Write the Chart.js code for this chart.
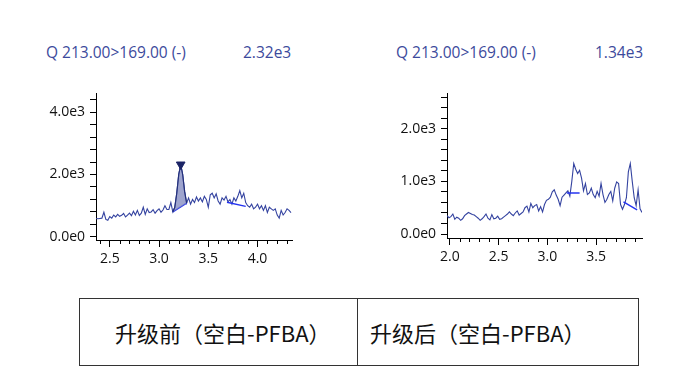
<!DOCTYPE html>
<html>
<head>
<meta charset="utf-8">
<script src="https://cdn.jsdelivr.net/npm/chart.js@4/dist/chart.umd.min.js"></script>
<style>
  html, body { margin: 0; padding: 0; background: #fff; }
  #page { position: relative; width: 691px; height: 385px; overflow: hidden; font-family: "Open Sans", "Noto Sans", sans-serif; }
  .hdr { position: absolute; font-size: 15.5px; color: #3c4a9c; line-height: 18px; white-space: nowrap; }
  canvas { position: absolute; }
  #tbl { position: absolute; left: 79px; top: 298px; width: 560px; height: 67px; border-collapse: collapse; table-layout: fixed; }
  #tbl td { box-sizing: border-box; border: 1px solid #333; font-family: "Noto Sans CJK SC", "Noto Sans", sans-serif; font-size: 22px; color: #111; padding: 0; height: 67px; vertical-align: middle; white-space: nowrap; }
</style>
</head>
<body>
<div id="page">
  <div class="hdr" style="left:46px; top:43px;">Q 213.00&gt;169.00 (-)</div>
  <div class="hdr" style="left:243px; top:43px;">2.32e3</div>
  <div class="hdr" style="left:396px; top:43px;">Q 213.00&gt;169.00 (-)</div>
  <div class="hdr" style="left:595px; top:43px;">1.34e3</div>
  <canvas id="c1" width="320" height="190" style="left:0px; top:80px;"></canvas>
  <canvas id="c2" width="320" height="190" style="left:350px; top:80px;"></canvas>
  <table id="tbl">
    <tr>
      <td style="width:278px; padding-left:35px;">升级前（空白-PFBA）</td>
      <td style="padding-left:12px;">升级后（空白-PFBA）</td>
    </tr>
  </table>
</div>
<script>
// ---------------- data: left (before upgrade) ----------------
const leftTime = [2.36,2.38,2.40,2.42,2.44,2.46,2.48,2.50,2.52,2.54,2.56,2.58,2.60,2.62,2.64,2.66,2.68,2.70,2.72,2.74,
  2.76,2.78,2.80,2.82,2.84,2.86,2.88,2.90,2.92,2.94,2.96,2.98,3.00,3.02,3.04,3.06,3.08,3.10,3.12,3.14,
  3.16,3.18,3.20,3.22,3.24,3.26,3.28,3.30,3.32,3.34,3.36,3.38,3.40,3.42,3.44,3.46,3.48,3.50,3.52,3.54,
  3.56,3.58,3.60,3.62,3.64,3.66,3.68,3.70,3.72,3.74,3.76,3.78,3.80,3.82,3.84,3.86,3.88,3.90,3.92,3.94,
  3.96,3.98,4.00,4.02,4.04,4.06,4.08,4.10,4.12,4.14,4.16,4.18,4.20,4.22,4.24,4.26,4.28,4.30,4.32,4.34];
const leftIntensity = [590,580,590,600,790,560,530,650,600,700,640,720,660,690,750,640,700,760,680,820,
  700,850,690,760,950,720,900,780,800,870,760,840,900,790,860,1000,880,880,1100,800,
  950,1400,2000,2320,2000,1450,1080,1250,1050,1200,1100,1280,1150,1250,1120,1300,1200,950,1350,1400,
  1250,1380,1150,1050,1250,1180,1300,1120,1200,1050,1250,1150,1300,1480,1250,1400,1100,1000,950,1050,
  900,950,1050,900,1000,850,1000,780,950,900,850,900,700,600,850,700,780,900,850,780];
const leftPeakRange = [3.14, 3.28];
const leftPeakApex = [3.22, 2320];
const leftBase1Time = [3.14, 3.28];
const leftBase1Value = [800, 1080];
const leftBase2Time = [3.69, 3.88];
const leftBase2Value = [1110, 980];
const leftXRange = [2.36, 4.35];
const leftYRange = [-100, 4600];
const leftXTicks = [2.4,2.5,2.6,2.7,2.8,2.9,3.0,3.1,3.2,3.3,3.4,3.5,3.6,3.7,3.8,3.9,4.0,4.1,4.2,4.3];
const leftXLabels = [2.5, 3.0, 3.5, 4.0];
const leftYTicks = [0,400,800,1200,1600,2000,2400,2800,3200,3600,4000,4400];
const leftYLabels = [0, 2000, 4000];

// ---------------- data: right (after upgrade) ----------------
const rightTime = [1.97,1.99,2.01,2.03,2.05,2.07,2.09,2.11,2.13,2.15,2.17,2.19,2.21,2.23,2.25,2.27,2.29,2.31,2.33,2.35,
  2.37,2.39,2.41,2.43,2.45,2.47,2.49,2.51,2.53,2.55,2.57,2.59,2.61,2.63,2.65,2.67,2.69,2.71,2.73,2.75,
  2.77,2.79,2.81,2.83,2.85,2.87,2.89,2.91,2.93,2.95,2.97,2.99,3.01,3.03,3.05,3.07,3.09,3.11,3.13,3.15,
  3.17,3.19,3.21,3.23,3.25,3.27,3.29,3.31,3.33,3.35,3.37,3.39,3.41,3.43,3.45,3.47,3.49,3.51,3.53,3.55,
  3.57,3.59,3.61,3.63,3.65,3.67,3.69,3.71,3.73,3.75,3.77,3.79,3.81,3.83,3.85,3.87,3.89,3.91,3.93,3.95,3.97];
const rightIntensity = [350,310,330,380,280,320,300,260,290,350,380,410,390,370,360,330,300,260,290,330,
  380,300,270,370,290,300,340,280,290,320,350,380,420,380,350,400,440,360,390,420,
  500,530,420,580,500,540,560,440,520,420,560,640,660,700,800,840,740,660,540,700,
  740,780,820,720,1000,1340,1230,1150,1210,1060,820,960,750,780,870,750,690,810,720,960,
  750,600,660,750,810,630,870,990,960,560,470,560,690,1180,1340,1000,690,540,840,480,410];
const rightBase1Time = [3.20, 3.33];
const rightBase1Value = [780, 780];
const rightBase2Time = [3.78, 3.92];
const rightBase2Value = [610, 460];
const rightXRange = [1.97, 3.97];
const rightYRange = [-75, 2670];
const rightXTicks = [2.0,2.1,2.2,2.3,2.4,2.5,2.6,2.7,2.8,2.9,3.0,3.1,3.2,3.3,3.4,3.5,3.6,3.7,3.8,3.9];
const rightXLabels = [2.0, 2.5, 3.0, 3.5];
const rightYTicks = [0,200,400,600,800,1000,1200,1400,1600,1800,2000,2200,2400,2600];
const rightYLabels = [0, 1000, 2000];

// ---------------- helpers ----------------
const TRACE = '#3443a0';
const BASE = '#2433f0';
const near = (a, list) => list.some(v => Math.abs(v - a) < 1e-6);
const pts = (xs, ys) => xs.map((x, i) => ({x: x, y: ys[i]}));
const fmtY = v => v.toExponential(1).replace('e+', 'e');

const minorTickPlugin = {
  id: 'minorTicks',
  afterDraw(chart, args, opts) {
    const sx = chart.scales.x;
    const ctx = chart.ctx;
    ctx.save();
    ctx.strokeStyle = '#000';
    ctx.lineWidth = 1;
    const top = chart.chartArea.bottom;
    opts.values.forEach(v => {
      if (near(v, opts.majors)) return;
      const px = Math.round(sx.getPixelForValue(v)) + 0.5;
      ctx.beginPath();
      ctx.moveTo(px, top);
      ctx.lineTo(px, top + 4);
      ctx.stroke();
    });
    ctx.restore();
  }
};

function makeChart(id, cfg) {
  const tickFont = {family: '"Open Sans", "Noto Sans", sans-serif', size: 14};
  return new Chart(document.getElementById(id), {
    type: 'line',
    data: {datasets: cfg.datasets},
    plugins: [minorTickPlugin],
    options: {
      responsive: false,
      animation: false,
      devicePixelRatio: 1,
      layout: {padding: {top: cfg.padTop, right: cfg.padRight, bottom: 0, left: 0}},
      plugins: {
        legend: {display: false},
        tooltip: {enabled: false},
        minorTicks: {values: cfg.xTicks, majors: cfg.xLabels}
      },
      elements: {point: {radius: 0}, line: {tension: 0}},
      scales: {
        x: {
          type: 'linear',
          min: cfg.xRange[0], max: cfg.xRange[1],
          afterBuildTicks: s => { s.ticks = cfg.xTicks.map(v => ({value: v})); },
          afterFit: s => { s.height = cfg.xHeight; },
          grid: {
            display: true, drawOnChartArea: false, tickLength: 7,
            tickColor: c => (c.tick && near(c.tick.value, cfg.xLabels)) ? '#000' : 'rgba(0,0,0,0)'
          },
          border: {display: true, color: '#000', width: 1},
          ticks: {
            autoSkip: false, maxRotation: 0, color: '#111', font: tickFont, padding: 4,
            callback: v => near(v, cfg.xLabels) ? Number(v).toFixed(1) : ''
          }
        },
        y: {
          type: 'linear',
          min: cfg.yRange[0], max: cfg.yRange[1],
          afterBuildTicks: s => { s.ticks = cfg.yTicks.map(v => ({value: v})); },
          afterFit: s => { s.width = cfg.yWidth; },
          grid: {display: true, drawOnChartArea: false, tickLength: 6, tickColor: '#000'},
          border: {display: true, color: '#000', width: 1},
          ticks: {
            autoSkip: false, color: '#111', font: tickFont, padding: 5,
            callback: v => near(v, cfg.yLabels) ? fmtY(v) : ''
          }
        }
      }
    }
  });
}

// ---------------- left chart ----------------
const leftPts = pts(leftTime, leftIntensity);
const leftPeakPts = leftPts.filter(p => p.x >= leftPeakRange[0] - 1e-6 && p.x <= leftPeakRange[1] + 1e-6);
makeChart('c1', {
  padTop: 10, padRight: 28, xHeight: 30, yWidth: 96,
  xRange: leftXRange, yRange: leftYRange,
  xTicks: leftXTicks, xLabels: leftXLabels, yTicks: leftYTicks, yLabels: leftYLabels,
  datasets: [
    {data: [{x: leftPeakApex[0], y: leftPeakApex[1]}], showLine: false, pointStyle: 'triangle', rotation: 180,
     pointRadius: 5, backgroundColor: '#1b2466', borderColor: '#1b2466', borderWidth: 1, order: 0},
    {data: leftPeakPts, borderColor: '#24307a', borderWidth: 1.2, backgroundColor: 'rgba(125,134,190,0.75)',
     fill: {target: 2}, order: 1},
    {data: pts(leftBase1Time, leftBase1Value), borderColor: BASE, borderWidth: 1.4, fill: false, order: 2},
    {data: pts(leftBase2Time, leftBase2Value), borderColor: BASE, borderWidth: 1.4, fill: false, order: 3},
    {data: leftPts, borderColor: TRACE, borderWidth: 1.1, fill: false, order: 4}
  ]
});

// ---------------- right chart ----------------
makeChart('c2', {
  padTop: 9, padRight: 28, xHeight: 32, yWidth: 97,
  xRange: rightXRange, yRange: rightYRange,
  xTicks: rightXTicks, xLabels: rightXLabels, yTicks: rightYTicks, yLabels: rightYLabels,
  datasets: [
    {data: pts(rightBase1Time, rightBase1Value), borderColor: BASE, borderWidth: 1.4, fill: false, order: 1},
    {data: pts(rightBase2Time, rightBase2Value), borderColor: BASE, borderWidth: 1.4, fill: false, order: 2},
    {data: pts(rightTime, rightIntensity), borderColor: TRACE, borderWidth: 1.1, fill: false, order: 3}
  ]
});
</script>
</body>
</html>
